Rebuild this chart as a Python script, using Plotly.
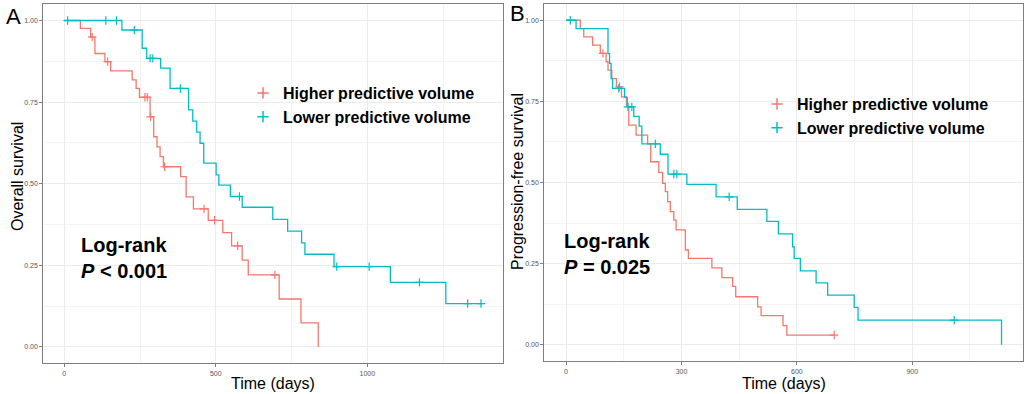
import plotly.graph_objects as go

RED = "#F8766D"
TEAL = "#00BFC4"
LABELS = ["Higher predictive volume", "Lower predictive volume"]

# ---------------- Panel A: overall survival ----------------
a_hi_t = [0, 53, 87, 101, 134, 153, 224, 237, 248, 283, 295, 306, 316, 327, 384, 402, 426,
          475, 523, 552, 587, 607, 709, 781, 838]
a_hi_s = [1, 0.976, 0.949, 0.899, 0.874, 0.846, 0.818, 0.792, 0.765, 0.705, 0.644, 0.613, 0.583,
          0.552, 0.522, 0.460, 0.423, 0.388, 0.350, 0.310, 0.266, 0.221, 0.147, 0.074, 0.0]
a_hi_cens = [92, 143, 266, 274, 285, 331, 461, 496, 572, 695]

a_lo_t = [0, 190, 257, 272, 318, 349, 410, 424, 437, 448, 460, 501, 510, 548, 587, 688, 737,
          783, 794, 890, 1076, 1259, 1380]
a_lo_s = [1, 0.971, 0.915, 0.884, 0.854, 0.792, 0.726, 0.692, 0.658, 0.624, 0.563, 0.527, 0.496,
          0.461, 0.428, 0.391, 0.355, 0.319, 0.284, 0.246, 0.198, 0.133, 0.133]
a_lo_cens = [11, 137, 172, 231, 283, 292, 383, 578, 899, 1006, 1172, 1331, 1375]

# ---------------- Panel B: progression-free survival ----------------
b_hi_t = [0, 37, 46, 69, 89, 104, 109, 119, 131, 144, 157, 163, 182, 212, 220, 241, 251, 258,
          264, 271, 280, 286, 310, 318, 379, 405, 433, 441, 498, 507, 564, 574, 697]
b_hi_s = [1, 0.974, 0.949, 0.923, 0.898, 0.872, 0.846, 0.820, 0.795, 0.764, 0.735, 0.677, 0.646,
          0.619, 0.564, 0.531, 0.497, 0.472, 0.441, 0.410, 0.384, 0.354, 0.292, 0.266, 0.237,
          0.207, 0.180, 0.148, 0.117, 0.090, 0.059, 0.030, 0.030]
b_hi_cens = [96, 139, 697]

b_lo_t = [0, 26, 109, 113, 117, 121, 152, 159, 176, 190, 197, 245, 265, 314, 390, 445, 522, 552,
          589, 593, 609, 650, 680, 749, 759, 1132]
b_lo_s = [1, 0.974, 0.897, 0.867, 0.820, 0.790, 0.762, 0.733, 0.704, 0.674, 0.619, 0.587, 0.526,
          0.494, 0.456, 0.417, 0.380, 0.342, 0.302, 0.266, 0.228, 0.191, 0.153, 0.115, 0.076, 0.0]
b_lo_cens = [11, 137, 161, 171, 232, 280, 288, 424, 1009]

a_xticks = [0, 500, 1000]
b_xticks = [0, 300, 600, 900]
y_ticks = [0, 0.25, 0.5, 0.75, 1.0]


def surv_at(ts, ss, t):
    val = ss[0]
    for ti, si in zip(ts, ss):
        if ti <= t:
            val = si
    return val


fig = go.Figure()


def add_curve(ts, ss, cens, color, xa, ya):
    fig.add_trace(go.Scatter(x=ts, y=ss, mode="lines", line=dict(color=color, width=1.3, shape="hv"),
                             xaxis=xa, yaxis=ya, showlegend=False, hoverinfo="skip"))
    fig.add_trace(go.Scatter(x=cens, y=[surv_at(ts, ss, c) for c in cens], mode="markers",
                             marker=dict(symbol="cross-thin", size=6, line=dict(color=color, width=1.2)),
                             xaxis=xa, yaxis=ya, showlegend=False, hoverinfo="skip"))


add_curve(a_hi_t, a_hi_s, a_hi_cens, RED, "x", "y")
add_curve(a_lo_t, a_lo_s, a_lo_cens, TEAL, "x", "y")
add_curve(b_hi_t, b_hi_s, b_hi_cens, RED, "x2", "y2")
add_curve(b_lo_t, b_lo_s, b_lo_cens, TEAL, "x2", "y2")

# legend entries
for lg, xa, ya in [("legend", "x", "y"), ("legend2", "x2", "y2")]:
    for name, color in zip(LABELS, [RED, TEAL]):
        fig.add_trace(go.Scatter(x=[None], y=[None], mode="markers", name=name, legend=lg,
                                 marker=dict(symbol="cross-thin", size=8, line=dict(color=color, width=1.5)),
                                 xaxis=xa, yaxis=ya))

axis_common = dict(showline=True, mirror=True, linecolor="#7F7F7F", linewidth=1.2,
                   ticks="outside", ticklen=3, tickcolor="#7F7F7F", tickwidth=1,
                   tickfont=dict(size=7, color="#555555", family="Arial"),
                   showgrid=True, gridcolor="#EBEBEB", gridwidth=1, zeroline=False)

W, H = 1025, 394
fig.update_layout(
    width=W, height=H, margin=dict(l=0, r=0, t=0, b=0),
    paper_bgcolor="white", plot_bgcolor="white",
    font=dict(family="Arial", color="black"),
    xaxis=dict(axis_common, domain=[43.4 / W, 503.4 / W], range=[-69, 1449],
               tickvals=a_xticks, ticktext=[str(v) for v in a_xticks],
               minor=dict(tickvals=[250, 750, 1250], showgrid=True, gridcolor="#F3F3F3", gridwidth=0.7, ticks=""),
               anchor="y"),
    yaxis=dict(axis_common, domain=[(H - 363.3) / H, (H - 4.2) / H], range=[-0.05, 1.05],
               tickvals=y_ticks, tickformat=".2f",
               minor=dict(tickvals=[0.125, 0.375, 0.625, 0.875], showgrid=True, gridcolor="#F3F3F3", gridwidth=0.7, ticks=""),
               anchor="x"),
    xaxis2=dict(axis_common, domain=[544.3 / W, 1023.3 / W], range=[-56.6, 1188.6],
                tickvals=b_xticks, ticktext=[str(v) for v in b_xticks],
                minor=dict(tickvals=[150, 450, 750, 1050], showgrid=True, gridcolor="#F3F3F3", gridwidth=0.7, ticks=""),
                anchor="y2"),
    yaxis2=dict(axis_common, domain=[(H - 361) / H, (H - 4) / H], range=[-0.05, 1.05],
                tickvals=y_ticks, tickformat=".2f",
                minor=dict(tickvals=[0.125, 0.375, 0.625, 0.875], showgrid=True, gridcolor="#F3F3F3", gridwidth=0.7, ticks=""),
                anchor="x2"),
    legend=dict(x=243 / W, y=(H - 76) / H, xanchor="left", yanchor="top", bgcolor="rgba(0,0,0,0)",
                font=dict(size=16, family="Arial", weight="bold"), itemwidth=30, tracegroupgap=0),
    legend2=dict(x=757 / W, y=(H - 87) / H, xanchor="left", yanchor="top", bgcolor="rgba(0,0,0,0)",
                 font=dict(size=16, family="Arial", weight="bold"), itemwidth=30, tracegroupgap=0),
)

ann = []
# panel letters
ann.append(dict(text="A", x=13 / W, y=(H - 17) / H, font=dict(size=22)))
ann.append(dict(text="B", x=517 / W, y=(H - 14) / H, font=dict(size=22)))
# axis titles
ann.append(dict(text="Time (days)", x=273.4 / W, y=(H - 383.5) / H, font=dict(size=16)))
ann.append(dict(text="Time (days)", x=783.8 / W, y=(H - 383.5) / H, font=dict(size=16)))
ann.append(dict(text="Overall survival", x=18 / W, y=(H - 177) / H, font=dict(size=16), textangle=-90))
ann.append(dict(text="Progression-free survival", x=517 / W, y=(H - 182) / H, font=dict(size=16), textangle=-90))
# log-rank texts
ann.append(dict(text="<b>Log-rank</b><br><b><i>P</i> &lt; 0.001</b>", x=79 / W, y=(H - 258) / H,
                font=dict(size=20), align="left", xanchor="left"))
ann.append(dict(text="<b>Log-rank</b><br><b><i>P</i> = 0.025</b>", x=562 / W, y=(H - 254) / H,
                font=dict(size=20), align="left", xanchor="left"))
for a in ann:
    a.setdefault("xanchor", "center")
    a.update(xref="paper", yref="paper", yanchor="middle", showarrow=False)
    a["font"] = dict(a["font"], family="Arial", color="black")
fig.update_layout(annotations=ann)

fig.write_html("out.html", config={"displayModeBar": False},
               post_script="document.body.style.margin='0';document.body.style.overflow='hidden';")
